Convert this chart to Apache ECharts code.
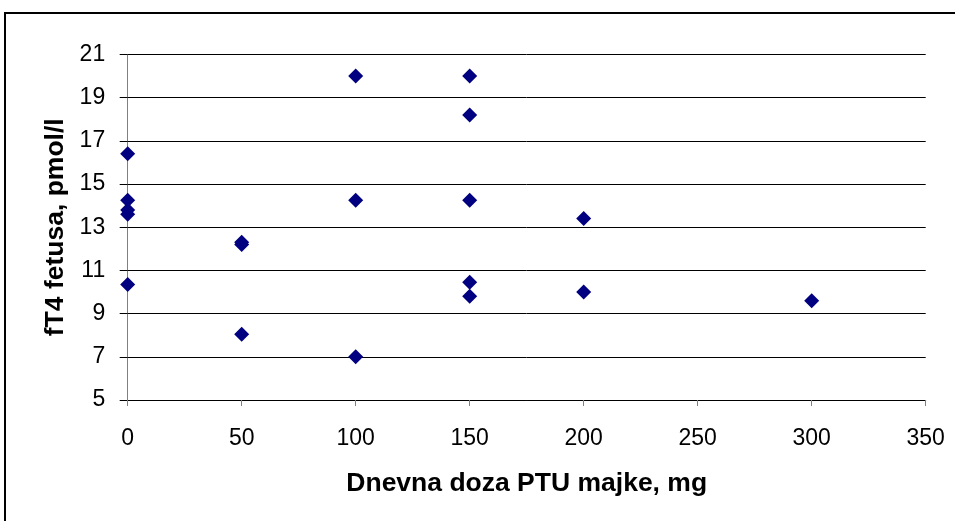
<!DOCTYPE html>
<html>
<head>
<meta charset="utf-8">
<script src="https://cdn.jsdelivr.net/npm/echarts@6/dist/echarts.min.js"></script>
<style>html,body{margin:0;padding:0;background:#fff;}#c{width:955px;height:521px;}</style>
</head>
<body>
<div id="c"></div>
<script>
const doses = [0, 0, 0, 0, 0, 50, 50, 50, 100, 100, 100, 150, 150, 150, 150, 150, 200, 200, 300];
const fT4 = [16.4, 14.25, 13.8, 13.6, 10.35, 12.3, 12.2, 8.05, 20.0, 14.25, 7.0, 20.0, 18.2, 14.25, 10.45, 9.8, 13.4, 10.0, 9.6];
const xTicks = [0, 50, 100, 150, 200, 250, 300, 350];
const yTicks = [5, 7, 9, 11, 13, 15, 17, 19, 21];
const xTitle = 'Dnevna doza PTU majke, mg';
const yTitle = 'fT4 fetusa, pmol/l';

const points = doses.map((d, i) => [d, fT4[i]]);
const font = '"Liberation Sans", Arial, sans-serif';
const chart = echarts.init(document.getElementById('c'), null, {renderer: 'canvas'});
chart.setOption({
  animation: false,
  backgroundColor: '#fff',
  graphic: [{
    type: 'rect', shape: {x: 5, y: 13, width: 1000, height: 600},
    style: {fill: 'none', stroke: '#000', lineWidth: 2}, silent: true
  }],
  grid: {left: 127.7, right: 29.3, top: 54.5, bottom: 121, containLabel: false},
  xAxis: {
    type: 'value', min: xTicks[0], max: xTicks[xTicks.length - 1], interval: 50,
    name: xTitle, nameLocation: 'middle', nameGap: 70,
    nameTextStyle: {fontFamily: font, fontSize: 26.5, fontWeight: 'bold', color: '#000'},
    axisLine: {show: true, lineStyle: {color: '#000', width: 1}},
    axisTick: {show: true, length: 6, lineStyle: {color: '#808080'}},
    axisLabel: {fontFamily: font, fontSize: 23, color: '#000', margin: 27},
    splitLine: {show: false}
  },
  yAxis: {
    type: 'value', min: yTicks[0], max: yTicks[yTicks.length - 1], interval: 2,
    name: yTitle, nameLocation: 'middle', nameGap: 59,
    nameTextStyle: {fontFamily: font, fontSize: 26.5, fontWeight: 'bold', color: '#000'},
    axisLine: {show: true, onZero: false, lineStyle: {color: '#808080', width: 1}},
    axisTick: {show: true, length: 8, lineStyle: {color: '#000'}},
    axisLabel: {fontFamily: font, fontSize: 23, color: '#000', margin: 22.5},
    splitLine: {show: true, lineStyle: {color: '#000', width: 1}}
  },
  series: [{
    type: 'scatter', data: points, symbol: 'diamond', symbolSize: 15, clip: false,
    itemStyle: {color: '#000080', opacity: 1}
  }]
});
</script>
</body>
</html>
